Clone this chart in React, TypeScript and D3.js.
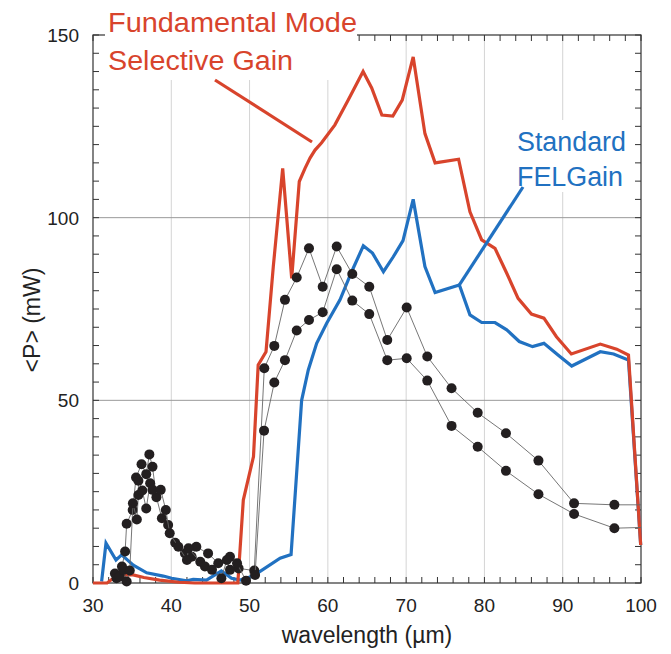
import React from "react";
import * as d3 from "d3";

const xTicks = [30, 40, 50, 60, 70, 80, 90, 100];
const yTicks = [0, 50, 100, 150];

// Fundamental Mode Selective Gain (red)
const redCurve: [number, number][] = [
  [30, 0], [31.8, 0], [32.4, 1.0], [33.9, 2.2], [35, 2.3], [36.5, 1.5], [38.5, 0.8], [41, 0.2], [43, 0],
  [48.5, 0], [49.2, 22.7], [50.5, 34.6], [51.1, 59.7], [52.1, 63.3], [53.03, 86.6], [54.23, 113.5],
  [55.38, 83.4], [56.35, 109.9], [57.08, 113.5], [57.72, 116.3], [58.36, 118.5], [59.2, 120.5],
  [60.9, 125.4], [62.6, 132.2], [64.5, 140], [65.6, 135.5], [66.9, 128.1], [68.3, 127.8], [69.5, 132.2],
  [70.9, 144], [72.4, 123], [73.7, 115], [76.7, 116], [78.15, 101.6], [79.65, 93.9], [81.35, 91.6],
  [82.85, 84.8], [84.3, 77.9], [86.0, 73.6], [87.6, 72.5], [89.2, 67.4], [91.1, 62.7], [94.8, 65.4],
  [96.9, 64], [98.4, 62.4], [99.96, 10.4],
];

// Standard FEL Gain (blue)
const blueCurve: [number, number][] = [
  [31.1, 0.4], [31.66, 10.9], [32.94, 6.3], [33.66, 7.7], [35.15, 4.9], [36.86, 2.8], [38.98, 1.9],
  [40.05, 1.3], [41.97, 0.6], [42.8, 1.0], [44.5, 0.8], [46.4, 3.3], [47.7, 1.3], [48.8, 0.8],
  [50.05, 1.6], [51.3, 3.1], [53.9, 6.8], [55.3, 7.8], [56.65, 50], [57.5, 58.3], [58.57, 65.6],
  [59.85, 71.1], [61.55, 77.5], [63.04, 85.2], [64.53, 92.3], [65.7, 90.3], [67.1, 85.2], [68.36, 89.3],
  [69.6, 93.7], [70.9, 105.0], [72.4, 86.6], [73.7, 79.5], [76.8, 81.6], [78.15, 73.4], [79.65, 71.3],
  [81.35, 71.3], [82.85, 69.3], [84.45, 66.1], [86.15, 64.7], [87.6, 65.6], [89.4, 62.4], [91.15, 59.4],
  [94.8, 63.3], [96.5, 62.7], [98.4, 61.0], [99.96, 10.4],
];

// Measured points, scan A
const scanA: [number, number][] = [
  [32.8, 2.6], [33.7, 4.5], [34.1, 8.6], [34.3, 16.2], [35.07, 20.0], [35.5, 28.9], [36.2, 32.5],
  [36.8, 29.8], [37.2, 35.2], [37.6, 31.8], [38.1, 23.5], [38.8, 17.7], [39.6, 15.9], [40.5, 11.0],
  [41.75, 8.1], [42.6, 7.2], [43.2, 9.9], [44.7, 8.1], [46.0, 5.4], [47.5, 7.2], [48.6, 4.0], [50.6, 3.4],
  [51.88, 58.8], [53.16, 64.9], [54.52, 77.5], [56.02, 83.6], [57.59, 91.6], [59.34, 81.1], [61.13, 92.1],
  [63.12, 84.6], [65.29, 81.1], [67.59, 66.5], [70.07, 75.4], [72.7, 62.0], [75.8, 53.3], [79.14, 46.6],
  [82.75, 41.0], [86.9, 33.5], [91.45, 21.8], [96.6, 21.4], [100, 21.4],
];

// Measured points, scan B
const scanB: [number, number][] = [
  [33.0, 1.3], [33.4, 1.7], [33.9, 3.6], [34.3, 0.4], [34.7, 3.4], [35.1, 21.8], [35.6, 17.4],
  [35.8, 24.1], [35.8, 28.0], [36.3, 25.3], [36.8, 20.4], [37.3, 27.3], [37.6, 25.5], [38.65, 25.5],
  [39.3, 20.0], [39.8, 13.6], [40.9, 9.9], [42.0, 6.3], [42.2, 9.5], [43.7, 5.8], [44.3, 4.5], [45.2, 3.6],
  [46.4, 1.3], [47.1, 6.3], [47.5, 3.6], [48.4, 5.4], [49.55, 0.6], [50.7, 2.2], [51.85, 41.7],
  [53.16, 54.9], [54.52, 61.0], [56.02, 69.1], [57.59, 72.0], [59.34, 74.1], [61.13, 85.9], [63.12, 77.3],
  [65.29, 73.6], [67.59, 61.0], [70.07, 61.5], [72.7, 55.4], [75.8, 43.0], [79.14, 37.3], [82.75, 30.7],
  [86.9, 24.3], [91.45, 18.9], [96.6, 15.0], [100, 15.2],
];

const RED = "#d8442c";
const BLUE = "#2171c1";
const FONT = "'Liberation Sans', Arial, Helvetica, sans-serif";

export default function App() {
  const W = 671, H = 654;
  const L = 93, R = 641, T = 35, B = 583;
  const x = d3.scaleLinear().domain([30, 100]).range([L, R]);
  const y = d3.scaleLinear().domain([0, 150]).range([B, T]);
  const line = d3.line<[number, number]>().x((d) => x(d[0])).y((d) => y(d[1]));

  const xMinor = d3.range(30, 100.01, 2);
  const yMinor = d3.range(0, 150.01, 5);
  const tk = 6;

  return (
    <svg width={W} height={H} style={{ position: "absolute", left: 0, top: 0, background: "#fff" }}>
      {/* vertical grid */}
      {xTicks.slice(1, -1).map((t) => (
        <line key={"gx" + t} x1={x(t)} x2={x(t)} y1={T} y2={B} stroke="#d4d4d4" strokeWidth={1} />
      ))}
      {/* horizontal grid */}
      {yTicks.slice(1, -1).map((t) => (
        <line key={"gy" + t} x1={L} x2={R} y1={y(t)} y2={y(t)} stroke="#9a9a9a" strokeWidth={1} />
      ))}
      {/* frame */}
      <rect x={L} y={T} width={R - L} height={B - T} fill="none" stroke="#333" strokeWidth={1.2} />
      {/* ticks inward */}
      {xMinor.map((t) => (
        <g key={"xt" + t}>
          <line x1={x(t)} x2={x(t)} y1={B} y2={B - tk} stroke="#333" strokeWidth={1} />
          <line x1={x(t)} x2={x(t)} y1={T} y2={T + tk} stroke="#333" strokeWidth={1} />
        </g>
      ))}
      {yMinor.map((t) => (
        <g key={"yt" + t}>
          <line x1={L} x2={L + tk} y1={y(t)} y2={y(t)} stroke="#333" strokeWidth={1} />
          <line x1={R} x2={R - tk} y1={y(t)} y2={y(t)} stroke="#333" strokeWidth={1} />
        </g>
      ))}
      {/* tick labels */}
      {xTicks.map((t) => (
        <text key={"xl" + t} x={x(t)} y={612} textAnchor="middle" fontFamily={FONT} fontSize={19} fill="#222">
          {t}
        </text>
      ))}
      {yTicks.map((t) => (
        <text key={"yl" + t} x={79} y={y(t) + 7} textAnchor="end" fontFamily={FONT} fontSize={19} fill="#222">
          {t}
        </text>
      ))}
      <text x={(L + R) / 2} y={643} textAnchor="middle" fontFamily={FONT} fontSize={23} fill="#222">
        wavelength (µm)
      </text>
      <text
        transform={`translate(40, ${320}) rotate(-90)`}
        textAnchor="middle"
        fontFamily={FONT}
        fontSize={23}
        fill="#222"
      >
        {"<P> (mW)"}
      </text>

      {/* curves */}
      <path d={line(blueCurve) || ""} fill="none" stroke={BLUE} strokeWidth={3.2} strokeLinejoin="miter" />
      <path d={line(redCurve) || ""} fill="none" stroke={RED} strokeWidth={3.2} strokeLinejoin="miter" />

      {/* measured scans */}
      {[scanA, scanB].map((s, i) => (
        <g key={"s" + i}>
          <path d={line(s) || ""} fill="none" stroke="#666" strokeWidth={0.9} />
          {s
            .filter((d) => d[0] < 100)
            .map((d, j) => (
              <circle key={j} cx={x(d[0])} cy={y(d[1])} r={5} fill="#231f20" />
            ))}
        </g>
      ))}

      {/* annotation boxes */}
      <rect x={105} y={0} width={252} height={80} fill="#fff" />
      <text x={108} y={32} fontFamily={FONT} fontSize={27} fill={RED} textLength={249} lengthAdjust="spacingAndGlyphs">
        Fundamental Mode
      </text>
      <text x={108} y={70} fontFamily={FONT} fontSize={27} fill={RED} textLength={185} lengthAdjust="spacingAndGlyphs">
        Selective Gain
      </text>
      <line x1={215} y1={80} x2={312} y2={142} stroke={RED} strokeWidth={3.2} />

      <rect x={512} y={120} width={118} height={72} fill="#fff" />
      <text x={517} y={151} fontFamily={FONT} fontSize={27} fill={BLUE} textLength={109} lengthAdjust="spacingAndGlyphs">
        Standard
      </text>
      <text x={517} y={186} fontFamily={FONT} fontSize={27} fill={BLUE} textLength={106} lengthAdjust="spacingAndGlyphs">
        FELGain
      </text>
      <line x1={x(76.8)} y1={y(81.6)} x2={523} y2={187} stroke={BLUE} strokeWidth={3.2} />
    </svg>
  );
}
